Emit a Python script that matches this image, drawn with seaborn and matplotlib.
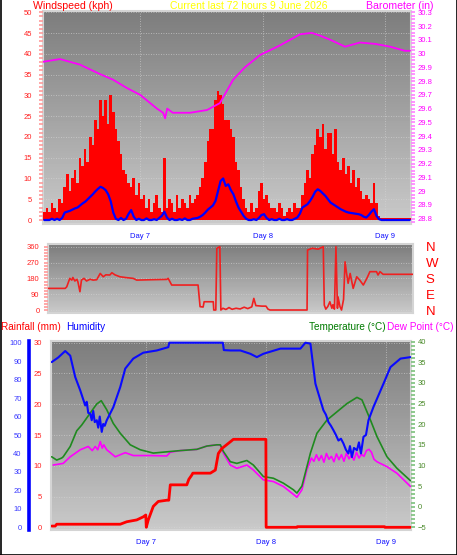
import numpy as np
import seaborn as sns
import matplotlib.pyplot as plt
import matplotlib.ticker as mticker
from matplotlib.lines import Line2D

# ---- top panel: wind (half-hour samples) and barometer ----
gust_kph = [2, 3, 2, 4, 3, 2,
            5, 4, 8, 11, 7, 10,
            12, 9, 15, 13, 17, 14,
            20, 18, 24, 22, 29, 25,
            29, 23, 30, 26,
            22, 19, 16, 12, 11, 9,
            8, 10, 6, 9, 5, 6,
            3, 5, 2, 4, 6, 3, 2, 15, 3, 5, 4, 2, 6, 3, 5, 4, 3, 6, 4, 5,
            6, 8, 10, 14, 19, 22,
            22, 29, 31, 30, 28, 24,
            24, 22, 20, 14, 12, 8,
            5, 3, 2, 4, 2, 3,
            7, 9, 5, 6, 4, 3,
            3, 2, 4, 3, 1, 2, 3, 2, 4, 3,
            3, 6, 9, 12, 10, 16,
            18, 22, 20, 23, 17, 21,
            21, 16, 22, 14, 12, 15,
            11, 13, 9, 12, 8, 10,
            7, 5, 6, 5, 4, 9,
            4, 1,
            0.5, 0.5, 0.5, 0.5, 0.5, 0.5, 0.5, 0.5, 0.5, 0.5, 0.5, 0.5]
avg_kph = [0, 0, 0, 0.3, 0, 0.3, 0, 0.5,
           1.8, 2, 2.2, 2.5, 2.8, 3, 3.5, 4,
           4.4, 5, 5.6, 6.2, 6.9, 7.5, 8, 7.7,
           7.2, 6.2, 4.5, 1.8, 0.3, 0, 0.5, 0,
           0.3, 1.5, 2.4, 0.8, 0, 0.3, 0, 0,
           0.4, 0, 0, 0.2, 0, 0.5, 1, 2,
           0.6, 0, 0.3, 0, 0, 0.2, 0, 0.4,
           0, 0, 0.3, 0.4, 0.5, 0.8, 1.2, 1.8,
           2.5, 3, 3.5, 4.6, 7, 9.4, 10, 8.2,
           8.6, 7.2, 6.2, 4.5, 3, 2, 1, 0.3,
           0, 0, 0.2, 0, 0.5, 1.2, 1.4, 0.5,
           0, 0.2, 0, 0, 0.3, 0, 0, 0.2,
           0, 0, 0.3, 0.6, 1.5, 3, 3.4, 3.8,
           4.6, 5.6, 6.8, 7.4, 7, 6.4, 5.8, 5,
           4.2, 3.8, 3.4, 3, 2.6, 2.3, 2, 1.8,
           1.7, 1.6, 1.5, 1.4, 1.2, 0.8, 0.6, 1.2,
           2, 2.6, 1, 0.2, 0, 0, 0, 0,
           0, 0, 0, 0, 0, 0, 0, 0]
baro_hours = [0, 3.3, 7.2, 11.2, 13.7, 16.4, 19.0, 22.3, 23.5, 23.9, 24.3, 25.4,
              28.8, 32.1, 34.6, 37.2, 39.5, 42.5, 46.4, 50.3, 52.6, 54.2, 56.2,
              59.1, 62.0, 65.0, 67.9, 70.8, 71.8]
baro_in = [29.94, 29.96, 29.92, 29.85, 29.81, 29.75, 29.70, 29.60, 29.57, 29.53, 29.60, 29.57,
           29.57, 29.59, 29.64, 29.81, 29.90, 29.99, 30.06, 30.14, 30.15, 30.13, 30.10,
           30.05, 30.08, 30.07, 30.05, 30.02, 30.02]

# ---- middle panel: wind direction ----
dir_hours = [0, 3.4, 3.7, 4.3, 4.7, 4.9, 5.3, 5.7, 5.9, 6.3, 6.6, 7.1, 7.6, 8.3, 8.9, 9.6,
             10.3, 10.9, 11.4, 12.2, 12.6, 13.2, 14.2, 15.5, 16.8, 17.5, 20.1, 23.4, 23.7,
             24.4, 29.6, 30.0, 30.6, 30.8, 32.6, 32.7, 33.1, 33.3, 33.9, 34.1, 34.5, 35.1,
             35.7, 36.3, 37.1, 37.9, 38.7, 39.4, 40.2, 40.6, 41.0, 42.2, 43.0, 43.4, 43.8,
             51.1, 51.2, 52.1, 53.3, 54.3, 54.5, 54.8, 55.2, 55.6, 56.0, 56.2, 56.5, 56.8,
             57.1, 57.2, 57.6, 57.9, 58.3, 58.6, 58.9, 59.2, 59.6, 60.2, 60.9, 61.5, 62.2,
             62.9, 63.5, 64.8, 65.1, 65.5, 66.1, 72]
dir_deg = [123, 123, 132, 180, 170, 185, 165, 175, 160, 104, 170, 180, 165, 175, 170, 172,
           208, 189, 200, 199, 212, 200, 189, 184, 180, 170, 172, 174, 180,
           142, 142, 19, 17, 47, 47, 0, 0, 351, 360, 0, 10, 3,
           14, 4, 10, 6, 16, 8, 18, 66, 25, 22, 22, 5, 0,
           0, 341, 351, 346, 360, 28, 5, 20, 47, 10, 30, 5, 360,
           10, 75, 19, 0, 60, 274, 208, 152, 208, 123, 189, 170, 142,
           180, 218, 218, 199, 218, 203, 203]

# ---- bottom panel: rain, humidity, temperature, dew point ----
rain_hours = [0.2, 0.9, 1.2, 13.9, 15.2, 17.2, 18.5, 19.0, 19.1, 19.5, 20.5, 21.5, 23.2,
              23.6, 23.9, 27.2, 27.6, 28.2, 28.4, 31.9, 32.9, 33.5, 34.2, 35.9, 36.5,
              43.0, 43.05, 49.2, 49.3, 66.7, 66.8, 71.9]
rain_mm = [0.2, 0.2, 0.5, 0.5, 0.9, 1.2, 1.7, 2.0, 0.0, 1.2, 3.4, 4.2, 4.4,
           4.4, 6.9, 6.9, 7.8, 8.5, 8.8, 8.8, 9.3, 12.0, 12.8, 13.9, 14.3,
           14.3, 0.0, 0.0, 0.1, 0.1, 0.0, 0.0]
hum_hours = [0.2, 1.5, 2.9, 3.9, 4.9, 5.9, 6.9, 7.2, 7.5, 7.9, 8.2, 8.5, 8.8, 9.2, 9.5,
             9.8, 10.2, 10.5, 10.8, 11.2, 12.5, 13.9, 14.9, 16.5, 18.5, 21.2, 23.5, 23.7,
             34.4, 34.6, 35.9, 37.9, 39.9, 41.2, 42.5, 45.9, 49.9, 50.9, 51.9, 52.9, 54.5,
             55.0, 55.5, 56.0, 56.5, 57.0, 57.5, 58.0, 58.5, 59.0, 59.5, 59.8, 60.2, 60.6,
             61.2, 61.6, 62.0, 62.5, 63.0, 63.5, 64.5, 66.5, 67.9, 69.9, 71.9]
humidity = [89.5, 92, 95.5, 93, 81.4, 74.2, 66, 68, 62, 61.6, 58, 63, 57, 58, 54,
            60, 51.7, 56, 55, 58, 65, 76, 86, 91.4, 94.6, 95.8, 97.6, 100,
            100, 96, 95.8, 95.8, 94, 92.2, 94, 96.8, 96.8, 100, 99.5, 77.8, 63.4,
            61, 57, 55, 52.6, 50, 47, 48, 45.4, 42, 40, 44, 38, 43,
            41.8, 46, 40, 49, 50, 58, 65.2, 77.8, 86.8, 91.4, 92.2]
temp_hours = [0.2, 1.2, 2.2, 2.5, 3.9, 5.2, 6.2, 7.9, 9.2, 10.1, 11.2, 12.5, 13.9, 15.9,
              17.9, 20.5, 23.2, 25.9, 29.2, 31.2, 33.2, 33.9, 34.5, 35.9, 37.2, 39.2,
              40.5, 42.5, 44.5, 46.5, 48.5, 49.2, 50.2, 51.2, 51.9, 53.2, 55.2, 57.2,
              59.2, 61.2, 62.2, 63.9, 65.2, 67.2, 69.2, 71.9]
temp_c = [12.1, 11.3, 11.8, 12.1, 14.6, 18.4, 19.8, 22.7, 24.9, 25.7, 23.5, 20.2, 17.8, 15.0,
          13.8, 13.0, 13.3, 13.6, 13.9, 14.7, 15.0, 15.0, 13.4, 10.9, 10.5, 11.2,
          10.1, 7.3, 6.9, 5.7, 4.1, 3.3, 5.0, 9.7, 13.0, 17.8, 21.0, 23.0,
          25.0, 26.5, 25.9, 21.0, 17.0, 12.1, 9.3, 6.3]
dew_hours = [0.5, 2.5, 3.9, 5.9, 7.5, 8.3, 8.9, 9.4, 9.9, 10.3, 10.6, 11.2, 12.9, 14.9,
             16.5, 19.9, 23.2, 23.9, 25.9, 29.2, 31.2, 33.2, 33.9, 34.5, 35.9, 37.2,
             39.2, 40.5, 42.5, 44.5, 46.5, 48.5, 49.2, 50.2, 51.2, 52.1, 52.6, 53.1,
             53.6, 54.1, 54.6, 55.1, 55.6, 56.1, 56.6, 57.1, 57.6, 58.1, 58.6, 59.1,
             59.6, 60.1, 60.6, 61.1, 61.6, 62.1, 62.6, 63.1, 63.6, 64.1, 64.6, 65.2,
             67.2, 69.2, 71.9]
dew_c = [10.1, 10.5, 12.1, 13.8, 14.6, 13.6, 14.6, 13.8, 15.8, 14.2, 15.0, 13.8, 12.1, 13.1,
         12.4, 12.4, 12.3, 13.2, 13.6, 13.9, 14.7, 15.0, 14.9, 13.0, 10.1, 9.3,
         10.1, 8.9, 6.5, 6.1, 4.9, 3.0, 2.3, 4.1, 9.0, 11.8, 11.0, 12.6,
         11.2, 12.4, 10.8, 12.9, 11.5, 12.2, 10.9, 12.8, 11.4, 12.6, 11.0, 13.0,
         11.6, 12.5, 11.3, 13.2, 11.8, 12.7, 12.2, 13.6, 13.9, 13.2, 11.5, 10.9,
         9.7, 8.1, 4.9]

day_ticks = [19, 43, 67]
day_labels = ["Day 7", "Day 8", "Day 9"]
six_hour_ticks = list(range(1, 72, 6))
dir_ticks = [0, 90, 180, 270, 360]
compass = ["N", "E", "S", "W", "N"]

sns.set_style("white")
plt.rcParams["font.family"] = ["Liberation Sans", "DejaVu Sans"]

W, H = 457, 555
fig = plt.figure(figsize=(W / 100, H / 100), dpi=100)


def rect(x0, y0, x1, y1):
    return [x0 / W, 1 - y1 / H, (x1 - x0) / W, (y1 - y0) / H]


def backdrop(r, ylim, step, xgrid=True):
    bg = fig.add_axes(r, zorder=0)
    shade = np.linspace(0.49, 0.79, 64)[:, None]
    bg.imshow(shade, cmap="gray", vmin=0, vmax=1, aspect="auto", origin="upper",
              extent=[0, 72, ylim[0], ylim[1]], interpolation="bilinear")
    bg.set_xlim(0, 72)
    bg.set_ylim(*ylim)
    bg.yaxis.set_major_locator(mticker.MultipleLocator(step))
    bg.set_xticks(day_ticks if xgrid else [])
    bg.grid(True, color="#d6d6d6", alpha=0.8, linestyle=(0, (1, 2)), linewidth=0.6)
    bg.tick_params(length=0, labelleft=False, labelbottom=False)
    for sp in bg.spines.values():
        sp.set_color("#d4d4d4")
        sp.set_linewidth(1.5)
    return bg


def bare(ax):
    ax.set_facecolor("none")
    for sp in ax.spines.values():
        sp.set_visible(False)


def day_axis(ax):
    ax.set_xlim(0, 72)
    ax.set_xticks(day_ticks, day_labels)
    ax.set_xticks(six_hour_ticks, minor=True)
    ax.tick_params(axis="x", which="both", direction="out", length=2.5, width=1,
                   colors="#d8d8d8", labelcolor="#1010ff", labelsize=5.5, pad=4)


# ================= top panel =================
r1 = rect(43, 11, 411, 224)
wind_lim = (-0.96, 50.31)
backdrop(r1, wind_lim, 5)
ax1 = fig.add_axes(r1, zorder=1)
bare(ax1)
half_hours = np.arange(len(gust_kph)) * 0.5
ax1.bar(half_hours, gust_kph, width=0.5, align="edge", color="#ff0000",
        linewidth=0, antialiased=False, zorder=2)
sns.lineplot(x=half_hours + 0.25, y=avg_kph, ax=ax1, color="#0000ff", linewidth=1.6,
             estimator=None, sort=False, legend=False, zorder=3)
ax1.set_ylim(*wind_lim)
ax1.yaxis.set_major_locator(mticker.MultipleLocator(5))
ax1.yaxis.set_minor_locator(mticker.MultipleLocator(1))
ax1.tick_params(axis="y", which="both", direction="out", width=1.2, colors="#ff9a9a",
                labelcolor="#ff2020", labelsize=5.5, pad=4.5)
ax1.tick_params(axis="y", which="major", length=3.2)
ax1.tick_params(axis="y", which="minor", length=2.6)
day_axis(ax1)
ax1.set_xlabel("")
ax1.set_ylabel("")

ax1b = ax1.twinx()
ax1b.set_zorder(2)
bare(ax1b)
sns.lineplot(x=baro_hours, y=baro_in, ax=ax1b, color="#ff00ff", linewidth=1.3,
             estimator=None, sort=False, legend=False)
ax1b.set_xlim(0, 72)
ax1b.set_ylim(28.762, 30.309)
ax1b.yaxis.set_major_locator(mticker.MultipleLocator(0.1))
ax1b.yaxis.set_minor_locator(mticker.MultipleLocator(0.025))
ax1b.yaxis.set_major_formatter(mticker.FuncFormatter(lambda v, _: f"{v:g}"))
ax1b.tick_params(axis="y", which="both", direction="out", width=1.2, colors="#ff80ff",
                 labelcolor="#ff00ff", labelsize=5.5, pad=1.5)
ax1b.tick_params(axis="y", which="major", length=3.2)
ax1b.tick_params(axis="y", which="minor", length=2.6)
ax1b.set_ylabel("")

# ================= middle panel =================
r2 = rect(48, 244.3, 413, 312.7)
dir_lim = (-15.3, 373.6)
backdrop(r2, dir_lim, 90, xgrid=False)
ax2 = fig.add_axes(r2, zorder=1)
bare(ax2)
sns.lineplot(x=dir_hours, y=dir_deg, ax=ax2, color="#f02020", linewidth=1.2,
             estimator=None, sort=False, legend=False)
ax2.set_xlim(0, 72)
ax2.set_ylim(*dir_lim)
ax2.set_yticks(dir_ticks)
ax2.yaxis.set_minor_locator(mticker.MultipleLocator(18))
ax2.tick_params(axis="y", which="both", direction="out", width=1.2, colors="#ff9a9a",
                labelcolor="#ff2020", labelsize=5.5, pad=3)
ax2.tick_params(axis="y", which="major", length=3.2)
ax2.tick_params(axis="y", which="minor", length=2.6)
ax2.tick_params(axis="x", which="both", bottom=False, labelbottom=False)
ax2.set_xlabel("")
ax2.set_ylabel("")

ax2n = ax2.twinx()
bare(ax2n)
ax2n.set_ylim(*dir_lim)
ax2n.set_yticks(dir_ticks, compass)
ax2n.tick_params(axis="y", length=0, labelcolor="#ff0000", labelsize=9.5, pad=9)

# ================= bottom panel =================
r3 = rect(50.7, 341, 411, 530)
rain_lim = (-0.44, 30.28)
backdrop(r3, rain_lim, 5)

ax3t = fig.add_axes(r3, zorder=1)
bare(ax3t)
sns.lineplot(x=dew_hours, y=dew_c, ax=ax3t, color="#ff00ff", linewidth=1.2,
             estimator=None, sort=False, legend=False)
sns.lineplot(x=temp_hours, y=temp_c, ax=ax3t, color="#1f8a1f", linewidth=1.2,
             estimator=None, sort=False, legend=False)
ax3t.set_xlim(0, 72)
ax3t.set_ylim(-5.65, 40.17)
ax3t.yaxis.tick_right()
ax3t.yaxis.set_major_locator(mticker.MultipleLocator(5))
ax3t.yaxis.set_minor_locator(mticker.MultipleLocator(1))
ax3t.tick_params(axis="y", which="both", direction="out", width=1.2, colors="#7cc07c",
                 labelcolor="#4a8a2a", labelsize=5.5, pad=1.5)
ax3t.tick_params(axis="y", which="major", length=3.2)
ax3t.tick_params(axis="y", which="minor", length=2.6)
ax3t.tick_params(axis="x", which="both", bottom=False, labelbottom=False)
ax3t.set_xlabel("")
ax3t.set_ylabel("")

ax3h = fig.add_axes(r3, zorder=2)
bare(ax3h)
sns.lineplot(x=hum_hours, y=humidity, ax=ax3h, color="#0a0aff", linewidth=1.5,
             estimator=None, sort=False, legend=False)
ax3h.set_xlim(0, 72)
ax3h.set_ylim(rain_lim[0] * 100 / 30, rain_lim[1] * 100 / 30)
ax3h.spines["left"].set_visible(True)
ax3h.spines["left"].set_position(("outward", 15.6))
ax3h.spines["left"].set_color("#0000ff")
ax3h.spines["left"].set_linewidth(2.6)
ax3h.yaxis.set_major_locator(mticker.MultipleLocator(10))
ax3h.yaxis.set_minor_locator(mticker.MultipleLocator(2))
ax3h.tick_params(axis="y", which="both", direction="out", width=1, colors="#3030ff",
                 labelcolor="#3a3aff", labelsize=5.5, pad=2.5)
ax3h.tick_params(axis="y", which="major", length=2.8)
ax3h.tick_params(axis="y", which="minor", length=2)
ax3h.tick_params(axis="x", which="both", bottom=False, labelbottom=False)
ax3h.set_xlabel("")
ax3h.set_ylabel("")

ax3 = fig.add_axes(r3, zorder=3)
bare(ax3)
sns.lineplot(x=rain_hours, y=rain_mm, ax=ax3, color="#ff0000", linewidth=2,
             estimator=None, sort=False, legend=False)
ax3.set_ylim(*rain_lim)
ax3.yaxis.set_major_locator(mticker.MultipleLocator(5))
ax3.yaxis.set_minor_locator(mticker.MultipleLocator(1))
ax3.tick_params(axis="y", which="both", direction="out", width=1.2, colors="#ff9a9a",
                labelcolor="#ff2020", labelsize=5.5, pad=3)
ax3.tick_params(axis="y", which="major", length=3.4)
ax3.tick_params(axis="y", which="minor", length=2.6)
day_axis(ax3)
ax3.set_xlabel("")
ax3.set_ylabel("")

# ================= titles =================
ty = 1 - 6 / H
fig.text(33 / W, ty, "Windspeed (kph)", color="#ff0000", fontsize=7.6, ha="left", va="center")
fig.text(249 / W, ty, "Current last 72 hours 9 June 2026", color="#ffff00", fontsize=7.5,
         ha="center", va="center")
fig.text(433 / W, ty, "Barometer (in)", color="#ff00ff", fontsize=7.6, ha="right", va="center")
by = 1 - 327 / H
fig.text(1 / W, by, "Rainfall (mm)", color="#ff0000", fontsize=7.2, ha="left", va="center")
fig.text(66 / W, by, "Humidity", color="#0000ff", fontsize=7.2, ha="left", va="center")
fig.text(386 / W, by, "Temperature (°C)", color="#007a00", fontsize=7.2, ha="right", va="center")
fig.text(387 / W, by, "Dew Point (°C)", color="#ff00ff", fontsize=7.2, ha="left", va="center")

# outer frame
for xs, ys in [([0.5 / W, 0.5 / W], [0, 1]), ([1 - 0.5 / W, 1 - 0.5 / W], [0, 1]),
               ([0, 1], [0.5 / H, 0.5 / H])]:
    fig.add_artist(Line2D(xs, ys, color="black", linewidth=1.2))

fig.savefig("out.png", dpi=100)
